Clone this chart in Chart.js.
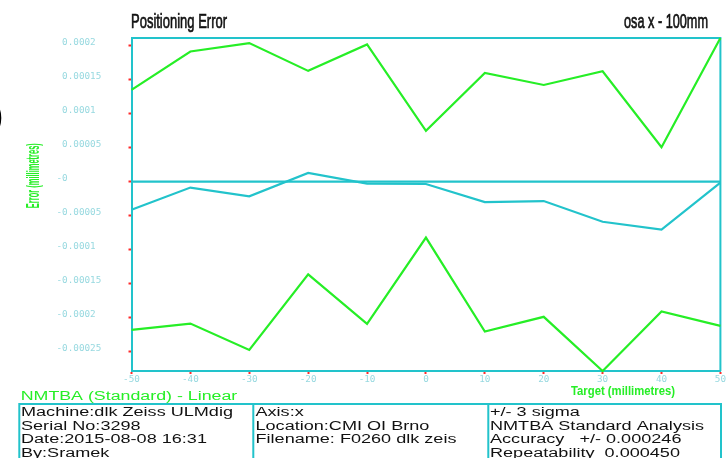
<!DOCTYPE html>
<html><head><meta charset="utf-8">
<script src="https://cdn.jsdelivr.net/npm/chart.js@4.4.0/dist/chart.umd.min.js"></script>
<style>html,body{margin:0;padding:0;background:#fff;overflow:hidden}#wrap{width:726px;height:458px;position:relative}</style>
</head><body><div id="wrap"><canvas id="c" width="726" height="458"></canvas></div>
<script>
const targets = [-50, -40, -30, -20, -10, 0, 10, 20, 30, 40, 50];
const upperBand = [0.0001347, 0.0001912, 0.0002035, 0.0001627, 0.0002015, 0.0000746, 0.0001597, 0.000142, 0.0001622, 0.0000506, 0.000211];
const meanError = [-0.0000413, -0.0000088, -0.0000217, 0.0000127, -0.000003, -0.0000035, -0.0000301, -0.0000286, -0.000059, -0.0000704, -0.0000015];
const lowerBand = [-0.0002178, -0.0002086, -0.0002473, -0.0001363, -0.000209, -0.0000822, -0.0002204, -0.0001987, -0.0002783, -0.0001909, -0.000212];
const zeroLineX = [-50, 50];
const zeroLineY = [0, 0];
const yTickValues = [-0.00025, -0.0002, -0.00015, -0.0001, -0.00005, 0, 0.00005, 0.0001, 0.00015, 0.0002];
const yTickLabels = ['-0.00025', '-0.0002', '-0.00015', '-0.0001', '-0.00005', '-0', '0.00005', '0.0001', '0.00015', '0.0002'];
const xTickValues = [-50, -40, -30, -20, -10, 0, 10, 20, 30, 40, 50];
const xTickLabels = ['-50', '-40', '-30', '-20', '-10', '0', '10', '20', '30', '40', '50'];
const yMin = -0.0002783;
const yMax = 0.000211;
const chartTitle = 'Positioning Error';
const chartSubtitle = 'osa x - 100mm';
const yTitle = 'Error (millimetres)';
const xTitle = 'Target (millimetres)';
const reportTitle = 'NMTBA (Standard) - Linear';
const infoCol1 = ['Machine:dlk Zeiss ULMdig', 'Serial No:3298', 'Date:2015-08-08 16:31', 'By:Sramek'];
const infoCol2 = ['Axis:x', 'Location:CMI OI Brno', 'Filename: F0260 dlk zeis'];
const infoCol3 = ['+/- 3 sigma', 'NMTBA Standard Analysis', 'Accuracy   +/- 0.000246', 'Repeatability  0.000450'];

const GREEN = '#26ee26';
const CYAN = '#22c3cb';
const TICKCOL = '#98d9e0';
const SANS = '"Liberation Sans", Arial, sans-serif';
const MONO = '"DejaVu Sans Mono", monospace';

function pts(xs, ys) { return xs.map((x, i) => ({ x: x, y: ys[i] })); }

function fitText(ctx, text, x, y, font, color, width, align, rot, strokeW) {
  ctx.save();
  ctx.font = font;
  ctx.fillStyle = color;
  ctx.strokeStyle = color;
  ctx.textBaseline = 'alphabetic';
  const w = ctx.measureText(text).width;
  const sx = width / w;
  ctx.translate(x, y);
  if (rot) ctx.rotate(rot);
  ctx.scale(sx, 1);
  ctx.textAlign = align || 'left';
  ctx.fillText(text, 0, 0);
  if (strokeW) { ctx.lineWidth = strokeW; ctx.strokeText(text, 0, 0); }
  ctx.restore();
  return sx;
}
function scaledText(ctx, text, x, y, font, color, sx) {
  ctx.save();
  ctx.font = font; ctx.fillStyle = color; ctx.textBaseline = 'alphabetic'; ctx.textAlign = 'left';
  ctx.translate(x, y); ctx.scale(sx, 1); ctx.fillText(text, 0, 0);
  ctx.restore();
}

const decor = {
  id: 'decor',
  beforeDatasetsDraw(chart) {
    const ctx = chart.ctx, a = chart.chartArea;
    ctx.save();
    ctx.strokeStyle = CYAN; ctx.lineWidth = 2;
    ctx.beginPath();
    ctx.moveTo(a.left, a.top); ctx.lineTo(a.right, a.top); ctx.lineTo(a.right, a.bottom);
    ctx.stroke();
    ctx.restore();
  },
  afterDraw(chart) {
    const ctx = chart.ctx;
    // cut-off glyph at the far left
    ctx.save(); ctx.font = '38px ' + SANS; ctx.fillStyle = '#000'; ctx.fillText(')', -9, 128); ctx.restore();
    fitText(ctx, chartTitle, 131, 28, '21px ' + SANS, '#111', 96, 'left', 0, 0.7);
    fitText(ctx, chartSubtitle, 708, 28, '21px ' + SANS, '#111', 84, 'right', 0, 0.7);
    fitText(ctx, yTitle, 38.5, 175.7, 'bold 18px ' + SANS, GREEN, 65, 'center', -Math.PI / 2);
    fitText(ctx, xTitle, 571, 395, 'bold 13px ' + SANS, GREEN, 104, 'left');
    // report block
    fitText(ctx, reportTitle, 20.7, 400, '12px ' + SANS, GREEN, 216.6, 'left');
    ctx.save();
    ctx.strokeStyle = CYAN; ctx.lineWidth = 2;
    ctx.beginPath();
    ctx.moveTo(19.3, 470); ctx.lineTo(19.3, 404); ctx.lineTo(721, 404); ctx.lineTo(721, 470);
    ctx.moveTo(253.3, 404); ctx.lineTo(253.3, 470);
    ctx.moveTo(488.3, 404); ctx.lineTo(488.3, 470);
    ctx.stroke();
    ctx.restore();
    ctx.save(); ctx.font = '12px ' + SANS;
    const sx = 212 / ctx.measureText(infoCol1[0]).width;
    ctx.restore();
    const rows = [415.7, 429.5, 443.3, 457.2];
    infoCol1.forEach((t, i) => scaledText(ctx, t, 21, rows[i], '12px ' + SANS, '#111', sx));
    infoCol2.forEach((t, i) => scaledText(ctx, t, 255.5, rows[i], '12px ' + SANS, '#111', sx));
    infoCol3.forEach((t, i) => scaledText(ctx, t, 490, rows[i], '12px ' + SANS, '#111', sx));
  }
};

const lineStyle = { borderWidth: 2.2, pointRadius: 0, tension: 0, fill: false, clip: false };

new Chart(document.getElementById('c'), {
  type: 'line',
  data: {
    datasets: [
      Object.assign({ label: 'zero', data: pts(zeroLineX, zeroLineY), borderColor: CYAN }, lineStyle),
      Object.assign({ label: 'upper', data: pts(targets, upperBand), borderColor: GREEN }, lineStyle),
      Object.assign({ label: 'mean', data: pts(targets, meanError), borderColor: CYAN }, lineStyle),
      Object.assign({ label: 'lower', data: pts(targets, lowerBand), borderColor: GREEN }, lineStyle)
    ]
  },
  options: {
    responsive: false,
    devicePixelRatio: 1,
    animation: false,
    layout: { padding: { top: 38, right: 4, bottom: 72, left: 56.5 } },
    plugins: { legend: { display: false }, tooltip: { enabled: false }, title: { display: false } },
    scales: {
      x: {
        type: 'linear', min: -50, max: 50,
        afterBuildTicks: s => { s.ticks = xTickValues.map(v => ({ value: v })); },
        afterFit: s => { s.height = 15; },
        ticks: {
          color: TICKCOL, font: { family: MONO, size: 9.3 }, padding: 0, maxRotation: 0, autoSkip: false,
          callback: v => xTickLabels[xTickValues.indexOf(v)]
        },
        grid: { display: true, drawOnChartArea: false, drawTicks: true, tickLength: 3, tickColor: '#ff2a2a', tickWidth: 2 },
        border: { display: true, color: CYAN, width: 2 }
      },
      y: {
        type: 'linear', min: yMin, max: yMax,
        afterBuildTicks: s => { s.ticks = yTickValues.map(v => ({ value: v })); },
        afterFit: s => { s.width = 75; },
        ticks: {
          color: TICKCOL, font: { family: MONO, size: 9.3, lineHeight: 0.65 }, padding: 28, crossAlign: 'far', autoSkip: false,
          callback: v => { const l = yTickLabels[yTickValues.indexOf(v)]; return [l.charAt(0) === '-' ? l : ' ' + l, '']; }
        },
        grid: { display: true, drawOnChartArea: false, drawTicks: true, tickLength: 3, tickColor: '#ff2a2a', tickWidth: 2 },
        border: { display: true, color: CYAN, width: 2 }
      }
    }
  },
  plugins: [decor]
});
</script>
</body></html>
